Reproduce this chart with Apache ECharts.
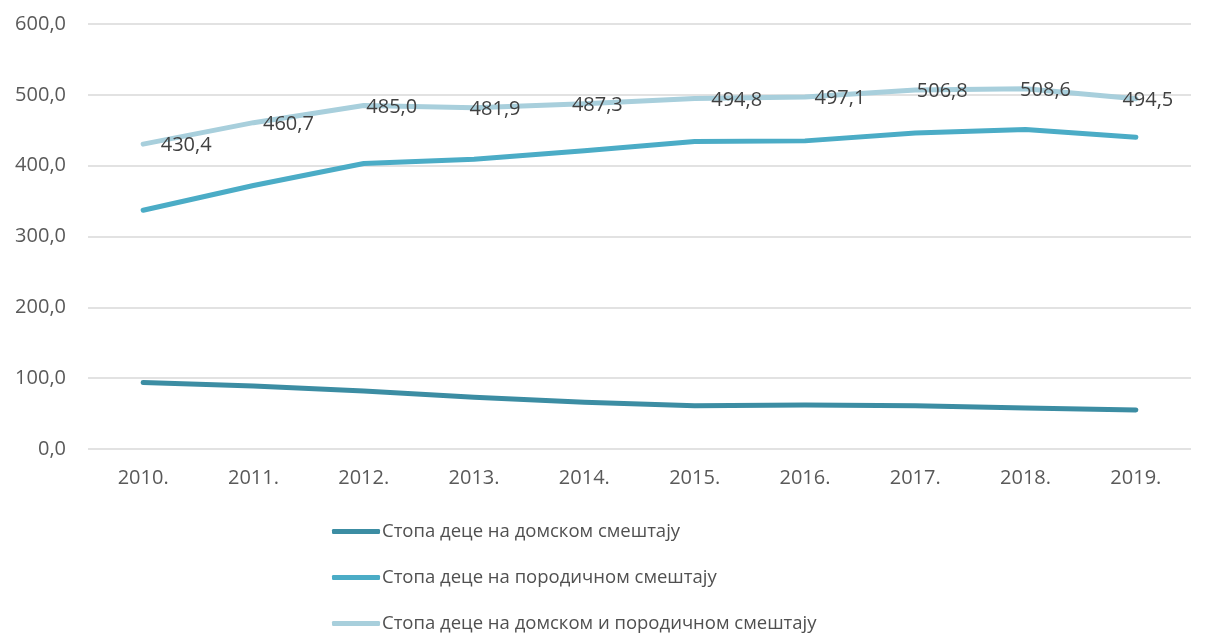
<!DOCTYPE html>
<html>
<head>
<meta charset="utf-8">
<script src="https://cdn.jsdelivr.net/npm/echarts@6/dist/echarts.min.js"></script>
<style>
  html, body { margin: 0; padding: 0; background: #ffffff; }
  #chart { width: 1215px; height: 633px; }
</style>
</head>
<body>
<div id="chart"></div>
<script>
const years = ['2010.', '2011.', '2012.', '2013.', '2014.', '2015.', '2016.', '2017.', '2018.', '2019.'];
const homeCare = [94, 89, 82, 73, 66, 61, 62, 61, 58, 55];
const familyCare = [337, 372, 403, 409, 421, 434, 435, 446, 451, 440];
const totalCare = [430.4, 460.7, 485.0, 481.9, 487.3, 494.8, 497.1, 506.8, 508.6, 494.5];

const seriesNames = [
    'Стопа деце на домском смештају',
    'Стопа деце на породичном смештају',
    'Стопа деце на домском и породичном смештају'
];
const colors = ['#3C8DA3', '#4BACC6', '#A8CFDC'];

// the source labels drift right of their points by a varying amount
const labelShift = [43, 35, 28, 21, 13, 42, 35, 27, 20, 12];

const fmt = v => Number(v).toFixed(1).replace('.', ',');
const fontFamily = '"Open Sans", "Noto Sans", sans-serif';

const chart = echarts.init(document.getElementById('chart'));

const lineSeries = (name, data, color, withLabels) => ({
    name: name,
    type: 'line',
    data: withLabels
        ? data.map((v, i) => ({ value: v, label: { offset: [labelShift[i], 1.5] } }))
        : data,
    symbol: 'circle',
    symbolSize: 2,
    showSymbol: withLabels,
    smooth: false,
    lineStyle: { width: 5, color: color, cap: 'round', join: 'round' },
    itemStyle: { color: color },
    label: {
        show: withLabels,
        position: 'inside',
        color: '#404040',
        fontSize: 20,
        fontFamily: fontFamily,
        formatter: p => fmt(p.value)
    },
    z: withLabels ? 1 : 2
});

chart.setOption({
    backgroundColor: '#ffffff',
    animation: false,
    color: colors,
    grid: { left: 88, right: 24, top: 24, bottom: 184 },
    xAxis: {
        type: 'category',
        data: years,
        boundaryGap: true,
        axisLine: { show: false },
        axisTick: { show: false },
        axisLabel: { color: '#595959', fontSize: 20, fontFamily: fontFamily, margin: 19 }
    },
    yAxis: {
        type: 'value',
        min: 0,
        max: 600,
        interval: 100,
        axisLine: { show: false },
        axisTick: { show: false },
        splitLine: { lineStyle: { color: '#D9D9D9', width: 1.5 } },
        axisLabel: {
            color: '#595959',
            fontSize: 20,
            fontFamily: fontFamily,
            margin: 22,
            formatter: v => fmt(v)
        }
    },
    legend: {
        orient: 'vertical',
        left: 327,
        top: 517,
        height: 160,
        icon: 'roundRect',
        itemWidth: 48,
        itemHeight: 5,
        itemGap: 27,
        textStyle: { color: '#505050', fontSize: 18.5, fontFamily: fontFamily, padding: [0, 0, 0, -3] },
        data: seriesNames
    },
    series: [
        lineSeries(seriesNames[0], homeCare, colors[0], false),
        lineSeries(seriesNames[1], familyCare, colors[1], false),
        lineSeries(seriesNames[2], totalCare, colors[2], true)
    ]
});
</script>
</body>
</html>
